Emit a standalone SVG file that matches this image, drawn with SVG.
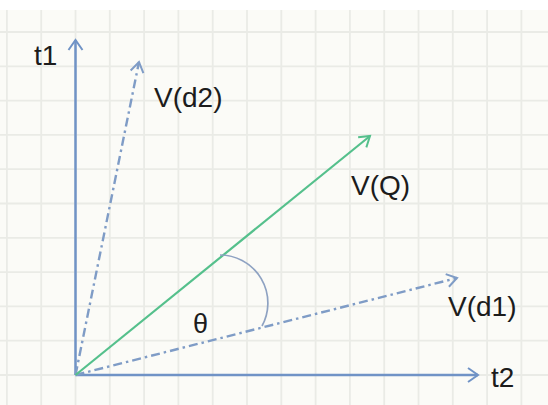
<svg xmlns="http://www.w3.org/2000/svg" width="548" height="405" viewBox="0 0 548 405">
  <style>
    .grid line { stroke: #eaebe6; stroke-width: 1.8; }
    .axis { stroke: #7093c6; stroke-width: 2.5; fill: none; }
    .dd { stroke: #7f9cc6; stroke-width: 2.4; fill: none; stroke-dasharray: 9 4 2.5 4; }
    .q { stroke: #55c08c; stroke-width: 2.2; fill: none; }
    .arc { stroke: #8ea2c2; stroke-width: 1.7; fill: none; }
    text { font-family: "Liberation Sans", Arial, sans-serif; fill: #1c1c1c; }
  </style>
  <defs>
    <marker id="ahAxis" markerUnits="userSpaceOnUse" markerWidth="24" markerHeight="24" refX="12" refY="12" orient="auto" viewBox="0 0 24 24">
      <path d="M2,5 L12,12 L2,19" fill="none" stroke="#7093c6" stroke-width="2"/>
    </marker>
    <marker id="ahDash" markerUnits="userSpaceOnUse" markerWidth="24" markerHeight="24" refX="12" refY="12" orient="auto" viewBox="0 0 24 24">
      <path d="M2,5.5 L12,12 L2,18.5" fill="none" stroke="#7f9cc6" stroke-width="2"/>
    </marker>
    <marker id="ahQ" markerUnits="userSpaceOnUse" markerWidth="24" markerHeight="24" refX="12" refY="12" orient="auto" viewBox="0 0 24 24">
      <path d="M2,5.5 L12,12 L2,18.5" fill="none" stroke="#55c08c" stroke-width="2"/>
    </marker>
  </defs>

  <rect x="0" y="0" width="548" height="405" fill="#ffffff"/>
  <rect x="0" y="10" width="548" height="395" fill="#fbfbf7"/>

  <g class="grid">
    <line x1="6.9" y1="10" x2="6.9" y2="405"/>
    <line x1="41.2" y1="10" x2="41.2" y2="405"/>
    <line x1="75.5" y1="10" x2="75.5" y2="405"/>
    <line x1="109.8" y1="10" x2="109.8" y2="405"/>
    <line x1="144.1" y1="10" x2="144.1" y2="405"/>
    <line x1="178.4" y1="10" x2="178.4" y2="405"/>
    <line x1="212.7" y1="10" x2="212.7" y2="405"/>
    <line x1="247" y1="10" x2="247" y2="405"/>
    <line x1="281.3" y1="10" x2="281.3" y2="405"/>
    <line x1="315.6" y1="10" x2="315.6" y2="405"/>
    <line x1="349.9" y1="10" x2="349.9" y2="405"/>
    <line x1="384.2" y1="10" x2="384.2" y2="405"/>
    <line x1="418.5" y1="10" x2="418.5" y2="405"/>
    <line x1="452.8" y1="10" x2="452.8" y2="405"/>
    <line x1="487.1" y1="10" x2="487.1" y2="405"/>
    <line x1="521.4" y1="10" x2="521.4" y2="405"/>
    <line x1="0" y1="32" x2="548" y2="32"/>
    <line x1="0" y1="66.3" x2="548" y2="66.3"/>
    <line x1="0" y1="100.6" x2="548" y2="100.6"/>
    <line x1="0" y1="134.9" x2="548" y2="134.9"/>
    <line x1="0" y1="169.2" x2="548" y2="169.2"/>
    <line x1="0" y1="203.5" x2="548" y2="203.5"/>
    <line x1="0" y1="237.8" x2="548" y2="237.8"/>
    <line x1="0" y1="272.1" x2="548" y2="272.1"/>
    <line x1="0" y1="306.4" x2="548" y2="306.4"/>
    <line x1="0" y1="340.7" x2="548" y2="340.7"/>
    <line x1="0" y1="375" x2="548" y2="375"/>
  </g>

  <g id="connectors">
    <line id="axis-t1" class="axis" x1="75.5" y1="375" x2="75.5" y2="40" marker-end="url(#ahAxis)"/>
    <line id="axis-t2" class="axis" x1="75.5" y1="375" x2="478" y2="375" marker-end="url(#ahAxis)"/>
    <line id="vec-d2" class="dd" x1="75.5" y1="375" x2="139" y2="62" marker-end="url(#ahDash)"/>
    <line id="vec-d1" class="dd" x1="75.5" y1="375" x2="457" y2="278" marker-end="url(#ahDash)"/>
    <line id="vec-q" class="q" x1="75.5" y1="375" x2="370" y2="136" marker-end="url(#ahQ)"/>
    <path id="angle" class="arc" d="M220,255 A48,48 0 0 1 262,326"/>
  </g>

  <g id="label-t1"><text x="34" y="65" font-size="28">t1</text></g>
  <g id="label-t2"><text x="491" y="387" font-size="28">t2</text></g>
  <g id="label-d2"><text x="154" y="107" font-size="28">V(d2)</text></g>
  <g id="label-q"><text x="351" y="195" font-size="28">V(Q)</text></g>
  <g id="label-d1"><text x="448" y="316" font-size="28">V(d1)</text></g>
  <g id="label-theta"><text x="193" y="333" font-size="27">θ</text></g>
</svg>
